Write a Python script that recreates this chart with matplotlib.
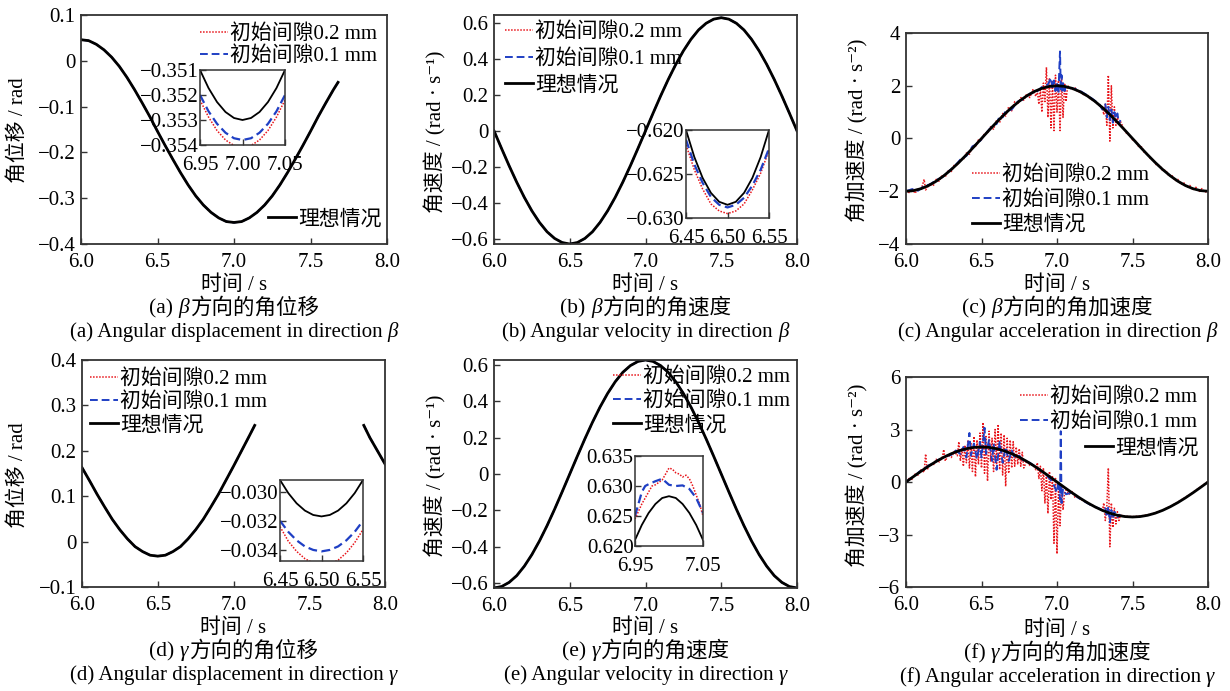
import numpy as np
import matplotlib
matplotlib.use("Agg")
import matplotlib.pyplot as plt
from matplotlib.legend import Legend
from matplotlib.offsetbox import TextArea, HPacker, DrawingArea, AnchoredOffsetbox

plt.rcParams['font.family'] = ['Liberation Serif', 'DejaVu Serif', 'Noto Sans CJK SC']

W, H = 1230, 691
FS = 15
M = '\u2212'

# ---------------- text ----------------
LABEL_02 = '初始间隙0.2 mm'
LABEL_01 = '初始间隙0.1 mm'
LABEL_IDEAL = '理想情况'
XLABEL = '时间 / s'
YLABELS = ['角位移 / rad', '角速度 / (rad · s⁻¹)', '角加速度 / (rad · s⁻²)',
           '角位移 / rad', '角速度 / (rad · s⁻¹)', '角加速度 / (rad · s⁻²)']
CAPTIONS_CN = [('(a)', 'β', '方向的角位移'), ('(b)', 'β', '方向的角速度'), ('(c)', 'β', '方向的角加速度'),
               ('(d)', 'γ', '方向的角位移'), ('(e)', 'γ', '方向的角速度'), ('(f)', 'γ', '方向的角加速度')]
CAPTIONS_EN = [('(a) Angular displacement in direction', 'β'),
               ('(b) Angular velocity in direction', 'β'),
               ('(c) Angular acceleration in direction', 'β'),
               ('(d) Angular displacement in direction', 'γ'),
               ('(e) Angular velocity in direction', 'γ'),
               ('(f) Angular acceleration in direction', 'γ')]

# ---------------- ticks ----------------
X_TICKS = [6.0, 6.5, 7.0, 7.5, 8.0]
X_TICK_LABELS = ['6.0', '6.5', '7.0', '7.5', '8.0']
Y_TICKS_A = [0.1, 0, -0.1, -0.2, -0.3, -0.4]
Y_LABELS_A = ['0.1', '0', M + '0.1', M + '0.2', M + '0.3', M + '0.4']
Y_TICKS_B = [0.6, 0.4, 0.2, 0, -0.2, -0.4, -0.6]
Y_LABELS_B = ['0.6', '0.4', '0.2', '0', M + '0.2', M + '0.4', M + '0.6']
Y_TICKS_C = [4, 2, 0, -2, -4]
Y_LABELS_C = ['4', '2', '0', M + '2', M + '4']
Y_TICKS_D = [0.4, 0.3, 0.2, 0.1, 0, -0.1]
Y_LABELS_D = ['0.4', '0.3', '0.2', '0.1', '0', M + '0.1']
Y_TICKS_F = [6, 3, 0, -3, -6]
Y_LABELS_F = ['6', '3', '0', M + '3', M + '6']

IN_A_XT = [6.95, 7.00, 7.05]; IN_A_XL = ['6.95', '7.00', '7.05']
IN_A_YT = [-0.351, -0.352, -0.353, -0.354]; IN_A_YL = [M + '0.351', M + '0.352', M + '0.353', M + '0.354']
IN_B_XT = [6.45, 6.50, 6.55]; IN_B_XL = ['6.45', '6.50', '6.55']
IN_B_YT = [-0.620, -0.625, -0.630]; IN_B_YL = [M + '0.620', M + '0.625', M + '0.630']
IN_D_YT = [-0.030, -0.032, -0.034]; IN_D_YL = [M + '0.030', M + '0.032', M + '0.034']
IN_E_XT = [6.95, 7.05]; IN_E_XL = ['6.95', '7.05']
IN_E_YT = [0.635, 0.630, 0.625, 0.620]; IN_E_YL = ['0.635', '0.630', '0.625', '0.620']

# ---------------- data ----------------
T41 = np.linspace(6.0, 8.0, 41)

# (a) beta angular displacement
T_A = list(np.linspace(6.0, 7.65, 34)) + [7.68]
DISP_BETA = [0.046, 0.044, 0.036, 0.024, 0.008, -0.012, -0.036, -0.063, -0.092, -0.122,
             -0.154, -0.185, -0.215, -0.244, -0.271, -0.295, -0.315, -0.331, -0.343, -0.351,
             -0.353, -0.351, -0.343, -0.331, -0.315, -0.295, -0.271, -0.244, -0.215, -0.185,
             -0.154, -0.122, -0.092, -0.063, -0.047]
T_IN_A = np.linspace(6.95, 7.05, 11)
DISP_BETA_IN_IDEAL = [-0.3510, -0.35172, -0.35228, -0.35268, -0.35292, -0.3530,
                      -0.35292, -0.35268, -0.35228, -0.35172, -0.3510]
DISP_BETA_IN_01 = [-0.3520, -0.35265, -0.35315, -0.35351, -0.35373, -0.3538,
                   -0.35373, -0.35351, -0.35315, -0.35265, -0.3520]
DISP_BETA_IN_02 = [-0.3522, -0.35288, -0.35342, -0.3538, -0.35402, -0.3541,
                   -0.35402, -0.3538, -0.35342, -0.35288, -0.3522]

# (b) beta angular velocity
VEL_BETA = [0.0, -0.098, -0.194, -0.285, -0.369, -0.444, -0.508, -0.560, -0.597, -0.620,
            -0.628, -0.620, -0.597, -0.560, -0.508, -0.444, -0.369, -0.285, -0.194, -0.098,
            0.0, 0.098, 0.194, 0.285, 0.369, 0.444, 0.508, 0.560, 0.597, 0.620,
            0.628, 0.620, 0.597, 0.560, 0.508, 0.444, 0.369, 0.285, 0.194, 0.098, 0.0]
T_IN_B = np.linspace(6.45, 6.55, 11)
VEL_BETA_IN_IDEAL = [-0.6200, -0.62306, -0.62544, -0.62714, -0.62816, -0.6285,
                     -0.62816, -0.62714, -0.62544, -0.62306, -0.6200]
VEL_BETA_IN_01 = [-0.6211, -0.6239, -0.6260, -0.6276, -0.6285, -0.6288,
                  -0.6285, -0.6277, -0.6263, -0.6245, -0.6221]
VEL_BETA_IN_02 = [-0.6217, -0.6245, -0.6267, -0.6284, -0.6292, -0.6295,
                  -0.6292, -0.6284, -0.6268, -0.6249, -0.6223]

# (c) beta angular acceleration
ACC_BETA = [-2.0, -1.975, -1.902, -1.782, -1.618, -1.414, -1.176, -0.908, -0.618, -0.313,
            0.0, 0.313, 0.618, 0.908, 1.176, 1.414, 1.618, 1.782, 1.902, 1.975,
            2.0, 1.975, 1.902, 1.782, 1.618, 1.414, 1.176, 0.908, 0.618, 0.313,
            0.0, -0.313, -0.618, -0.908, -1.176, -1.414, -1.618, -1.782, -1.902, -1.975, -2.0]
T_RED_C = [6.00, 6.02, 6.04, 6.06, 6.08, 6.10, 6.12, 6.13, 6.16, 6.18, 6.20, 6.22, 6.24, 6.26,
           6.28, 6.30, 6.32, 6.34, 6.36, 6.38, 6.40, 6.42, 6.44, 6.46, 6.48, 6.50, 6.52, 6.54,
           6.56, 6.58, 6.60, 6.62, 6.64, 6.66, 6.68, 6.70, 6.72, 6.74, 6.76, 6.78, 6.80, 6.82,
           6.84, 6.86,
           6.87, 6.88, 6.89, 6.90, 6.91, 6.92, 6.93, 6.94, 6.95, 6.96, 6.97, 6.98, 6.99, 7.00,
           7.01, 7.02, 7.03, 7.04, 7.05, 7.06, 7.07,
           7.08, 7.10, 7.12, 7.14, 7.16, 7.18, 7.20, 7.22, 7.24, 7.26, 7.28, 7.30,
           7.31, 7.32, 7.33, 7.34, 7.35, 7.36, 7.37, 7.38, 7.39, 7.40, 7.41, 7.42,
           7.44, 7.46, 7.48, 7.50, 7.52, 7.54, 7.56, 7.58, 7.60, 7.62, 7.64, 7.66, 7.68, 7.70,
           7.72, 7.74, 7.76, 7.78, 7.80, 7.82, 7.84, 7.86, 7.88, 7.90, 7.92, 7.94, 7.96, 7.98, 8.00]
ACC_RED_C = [-1.95, -2.05, -1.90, -2.08, -1.88, -1.95, -1.55, -1.95, -1.70, -1.80, -1.55, -1.62,
             -1.38, -1.45, -1.22, -1.25, -1.00, -1.02, -0.78, -0.80, -0.55, -0.60, -0.30, -0.30,
             -0.05, -0.05, 0.20, 0.20, 0.45, 0.35, 0.70, 0.60, 0.95, 0.85, 1.20, 1.05, 1.40, 1.30,
             1.55, 1.45, 1.70, 1.55, 1.85, 1.60,
             1.80, 1.30, 1.90, 1.00, 2.10, 1.40, 2.70, 0.80, 2.30, 0.40, 2.20, 0.30, 2.40, 1.00,
             2.20, 0.30, 2.30, 0.80, 2.10, 1.40, 2.00,
             1.95, 1.85, 1.92, 1.75, 1.80, 1.62, 1.66, 1.50, 1.45, 1.36, 1.25, 1.20,
             0.90, 1.30, 0.50, 2.40, -0.10, 2.00, 0.40, 1.20, 0.50, 0.85, 0.55, 0.65,
             0.40, 0.20, 0.12, -0.05, -0.10, -0.30, -0.32, -0.55, -0.58, -0.78, -0.82, -1.02,
             -1.02, -1.22, -1.20, -1.42, -1.38, -1.60, -1.55, -1.74, -1.68, -1.86, -1.78, -1.95,
             -1.85, -2.02, -1.90, -2.04, -1.97]
T_BLUE_C = [6.00, 6.04, 6.08, 6.12, 6.16, 6.20, 6.24, 6.28, 6.32, 6.36, 6.40, 6.44, 6.48, 6.52,
            6.56, 6.58, 6.60, 6.62, 6.64, 6.66, 6.70, 6.74, 6.78, 6.82, 6.86, 6.90, 6.94, 6.96,
            6.97, 6.98, 6.99, 7.00, 7.01, 7.015, 7.02, 7.025, 7.03, 7.035, 7.04, 7.05, 7.06,
            7.08, 7.12, 7.16, 7.20, 7.24, 7.28, 7.30, 7.32, 7.33, 7.34, 7.35, 7.36, 7.37, 7.38,
            7.39, 7.40, 7.41, 7.42]
ACC_BLUE_C = [-2.0, -1.92, -1.98, -1.80, -1.74, -1.58, -1.47, -1.26, -1.06, -0.80, -0.66, -0.30,
              -0.18, 0.14, 0.40, 0.50, 0.55, 0.85, 0.80, 1.05, 1.10, 1.40, 1.50, 1.70, 1.75,
              1.95, 2.05, 2.30, 1.90, 2.20, 1.80, 2.10, 1.70, 2.60, 3.30, 1.80, 2.40, 1.75,
              2.10, 1.80, 2.0, 1.92, 1.88, 1.78, 1.64, 1.48, 1.30, 1.10, 1.30, 0.80, 1.20,
              0.70, 1.10, 0.60, 1.00, 0.75, 0.95, 0.55, 0.70]

# (d) gamma angular displacement (curve leaves the plot between 7.14 s and 7.86 s)
T_D1 = list(np.linspace(6.0, 7.1, 23)) + [7.14]
DISP_GAMMA_1 = [0.163, 0.134, 0.104, 0.076, 0.049, 0.026, 0.006, -0.011, -0.022, -0.030,
                -0.032, -0.030, -0.022, -0.011, 0.006, 0.026, 0.049, 0.076, 0.104, 0.135,
                0.166, 0.198, 0.230, 0.256]
T_D2 = [7.86, 7.90, 7.95, 8.00]
DISP_GAMMA_2 = [0.256, 0.229, 0.200, 0.171]
T_IN_D = np.linspace(6.45, 6.55, 11)
DISP_GAMMA_IN_IDEAL = [-0.0292, -0.0301, -0.0308, -0.0313, -0.0316, -0.0317,
                       -0.0316, -0.0313, -0.0308, -0.0301, -0.0292]
DISP_GAMMA_IN_01 = [-0.0320, -0.03276, -0.03334, -0.03376, -0.0340, -0.0341,
                    -0.0340, -0.03376, -0.03334, -0.03276, -0.0320]
DISP_GAMMA_IN_02 = [-0.0324, -0.0334, -0.0341, -0.0346, -0.0349, -0.0350,
                    -0.0350, -0.0347, -0.0342, -0.0335, -0.0326]

# (e) gamma angular velocity
VEL_GAMMA = [-0.628, -0.620, -0.597, -0.560, -0.508, -0.444, -0.369, -0.285, -0.194, -0.098,
             0.0, 0.098, 0.194, 0.285, 0.369, 0.444, 0.508, 0.560, 0.597, 0.620,
             0.628, 0.620, 0.597, 0.560, 0.508, 0.444, 0.369, 0.285, 0.194, 0.098,
             0.0, -0.098, -0.194, -0.285, -0.369, -0.444, -0.508, -0.560, -0.597, -0.620, -0.628]
T_IN_E = np.linspace(6.95, 7.05, 11)
VEL_GAMMA_IN_IDEAL = [0.6210, 0.6235, 0.6255, 0.6270, 0.6280, 0.6283,
                      0.6280, 0.6270, 0.6255, 0.6235, 0.6210]
T_IN_E_02 = [6.95, 6.96, 6.97, 6.975, 6.98, 6.99, 6.995, 7.00, 7.005, 7.01, 7.015, 7.02,
             7.025, 7.03, 7.035, 7.04, 7.045, 7.05]
VEL_GAMMA_IN_02 = [0.6245, 0.6270, 0.6290, 0.6300, 0.6302, 0.6310, 0.6320, 0.6330, 0.6328,
                   0.6322, 0.6320, 0.6315, 0.6318, 0.6312, 0.6300, 0.6285, 0.6270, 0.6250]
T_IN_E_01 = [6.95, 6.96, 6.965, 6.97, 6.98, 6.99, 7.00, 7.01, 7.02, 7.03, 7.04, 7.05]
VEL_GAMMA_IN_01 = [0.6250, 0.6290, 0.6300, 0.6303, 0.6308, 0.6312, 0.6302, 0.6300, 0.6301,
                   0.6295, 0.6280, 0.6255]

# (f) gamma angular acceleration
ACC_GAMMA = [0.0, 0.313, 0.618, 0.908, 1.176, 1.414, 1.618, 1.782, 1.902, 1.975,
             2.0, 1.975, 1.902, 1.782, 1.618, 1.414, 1.176, 0.908, 0.618, 0.313,
             0.0, -0.313, -0.618, -0.908, -1.176, -1.414, -1.618, -1.782, -1.902, -1.975,
             -2.0, -1.975, -1.902, -1.782, -1.618, -1.414, -1.176, -0.908, -0.618, -0.313, 0.0]
T_RED_F = [6.00, 6.02, 6.04, 6.06, 6.08, 6.10, 6.12, 6.13, 6.14, 6.16, 6.18, 6.20, 6.22, 6.24,
           6.25, 6.26, 6.28, 6.30, 6.32, 6.34,
           6.35, 6.36, 6.37, 6.38, 6.39, 6.40, 6.41, 6.42, 6.43, 6.44,
           6.45, 6.46, 6.47, 6.48, 6.49, 6.50, 6.51, 6.52, 6.53, 6.54,
           6.55, 6.56, 6.57, 6.58, 6.59, 6.60, 6.61, 6.62, 6.63, 6.64,
           6.65, 6.66, 6.67, 6.68, 6.69, 6.70, 6.71, 6.72, 6.73, 6.74,
           6.75, 6.76, 6.77, 6.78,
           6.80, 6.82, 6.84, 6.86,
           6.87, 6.88, 6.89, 6.90, 6.91, 6.92, 6.93, 6.94, 6.95, 6.96, 6.97, 6.98, 6.99, 7.00,
           7.01, 7.02, 7.03, 7.04,
           7.05, 7.06, 7.08, 7.10, 7.12, 7.14, 7.16, 7.18, 7.20, 7.22, 7.24, 7.26, 7.28, 7.30,
           7.31, 7.32, 7.33, 7.34, 7.35, 7.36, 7.37, 7.38, 7.39, 7.40, 7.41, 7.42,
           7.45, 7.50, 7.55, 7.60, 7.65, 7.70, 7.75, 7.80, 7.85, 7.90, 7.95, 8.00]
ACC_RED_F = [0.05, 0.20, 0.15, 0.45, 0.40, 0.70, 0.55, 1.60, 0.70, 1.00, 0.95, 1.30, 1.15, 1.40,
             1.85, 1.20, 1.55, 1.40, 1.75, 1.50,
             2.30, 1.20, 1.90, 0.90, 2.10, 1.10, 2.40, 0.80, 2.20, 0.60,
             2.60, 0.30, 2.40, 1.00, 2.80, 0.80, 3.40, 0.50, 2.60, 0.05,
             2.90, 1.20, 2.50, 0.60, 3.00, 1.00, 3.30, 0.70, 2.80, 0.40,
             2.70, -0.25, 2.50, 0.50, 2.40, 0.80, 2.30, 0.90, 2.00, 1.00,
             1.90, 0.90, 1.70, 0.80,
             1.20, 0.95, 1.00, 0.70,
             1.10, 0.20, 0.90, -0.50, 0.80, -1.20, 0.50, -1.80, 0.60, -1.00, 0.30, -3.50, 0.20,
             -4.10, -0.30, -2.50, -0.20, -1.60,
             -0.60, -0.45, -0.70, -0.55, -0.90, -0.85, -1.00, -1.10, -1.15, -1.30, -1.35, -1.50,
             -1.50, -1.65,
             -1.20, -2.20, -1.40, 0.80, -3.70, -1.20, -2.60, -1.50, -2.40, -1.70, -2.20, -1.90,
             -1.96, -1.98, -1.95, -1.88, -1.76, -1.60, -1.40, -1.15, -0.88, -0.60, -0.28, 0.02]
T_BLUE_F = [6.00, 6.03, 6.06, 6.09, 6.12, 6.15, 6.18, 6.21, 6.24, 6.27, 6.30, 6.33, 6.36, 6.38,
            6.40, 6.42, 6.43, 6.45, 6.47, 6.49, 6.50, 6.52, 6.53, 6.55, 6.57, 6.58, 6.60, 6.62,
            6.64, 6.66, 6.68, 6.70, 6.72, 6.75, 6.78, 6.82, 6.86, 6.90, 6.93, 6.96, 6.98, 7.00,
            7.01, 7.02, 7.025, 7.03, 7.04, 7.06, 7.10, 7.14, 7.18, 7.22, 7.26, 7.30, 7.32, 7.33,
            7.34, 7.35, 7.36, 7.37, 7.38, 7.40, 7.42]
ACC_BLUE_F = [0.0, 0.20, 0.35, 0.60, 0.75, 0.95, 1.05, 1.25, 1.35, 1.50, 1.55, 1.80, 1.60, 2.00,
              1.40, 2.80, 1.50, 2.20, 1.30, 2.30, 1.40, 3.10, 1.60, 2.40, 1.20, 2.20, 0.70, 2.30,
              1.10, 2.00, 1.20, 1.80, 1.40, 1.50, 1.20, 1.10, 0.85, 0.60, 0.40, 0.10, -0.20,
              -0.60, 0.10, -1.00, 2.90, -1.20, -0.40, -0.70, -0.60, -0.90, -1.10, -1.30, -1.45,
              -1.60, -1.50, -2.00, -1.40, -2.30, -1.60, -2.10, -1.70, -2.00, -1.85]

# ---------------- styles ----------------
RED = dict(color='#e8151b', lw=1.1, ls=(0, (1, 1)))
BLUE = dict(color='#1f3fc4', lw=1.4, ls=(0, (4, 2)))
BLACK = dict(color='black', lw=2.0)
EDGE = '#333333'

fig = plt.figure(figsize=(W / 100, H / 100), dpi=100)


def add_axes_px(l, t, r, b):
    return fig.add_axes([l / W, 1 - b / H, (r - l) / W, (b - t) / H])


def style(ax, lw=1.3, pad=4):
    for s in ax.spines.values():
        s.set_linewidth(lw)
        s.set_color(EDGE)
    ax.tick_params(direction='in', length=4, width=1.0, labelsize=FS, pad=pad, color=EDGE)


def main_axes(box, ylim, yt, yl):
    ax = add_axes_px(*box)
    style(ax)
    ax.tick_params(axis='x', pad=6.5)
    ax.set_xlim(6.0, 8.0)
    ax.set_ylim(*ylim)
    ax.set_xticks(X_TICKS, X_TICK_LABELS)
    ax.set_yticks(yt, yl)
    cx = (box[0] + box[2]) / 2
    return ax, cx


def inset(box, xlim, ylim, xt, xl, yt, yl):
    ax = add_axes_px(*box)
    style(ax, lw=1.1, pad=3)
    ax.tick_params(axis='x', pad=8)
    ax.tick_params(axis='y', pad=1)
    ax.set_xlim(*xlim)
    ax.set_ylim(*ylim)
    ax.set_xticks(xt, xl)
    ax.set_yticks(yt, yl)
    return ax


def legend_at(ax, handles, labels, x, y, spacing=0.2):
    leg = Legend(ax, handles, labels, loc='upper left',
                 bbox_to_anchor=(x / W, 1 - (y - 8) / H), bbox_transform=fig.transFigure,
                 frameon=False, fontsize=FS, handlelength=1.35, handletextpad=0.1,
                 labelspacing=spacing, borderpad=0, borderaxespad=0)
    ax.add_artist(leg)


def caption(cx, cy, parts, size):
    boxes = []
    for p in parts:
        if p is None:
            boxes.append(DrawingArea(size * 0.25, 0))
        else:
            boxes.append(TextArea(p[0], textprops=dict(fontsize=size, fontstyle=p[1])))
    pack = HPacker(children=boxes, align='baseline', pad=0, sep=0)
    ab = AnchoredOffsetbox(loc='center', child=pack, pad=0, borderpad=0, frameon=False,
                           bbox_to_anchor=(cx / W, 1 - cy / H), bbox_transform=fig.transFigure)
    fig.add_artist(ab)


def texts(i, cx, ylab_x, ylab_y, top):
    fig.text(ylab_x / W, 1 - ylab_y / H, YLABELS[i], rotation=90, ha='center', va='center',
             fontsize=FS)
    fig.text(cx / W, 1 - top / H, XLABEL, ha='center', va='center', fontsize=FS)
    caption(cx, top + 23, [(CAPTIONS_CN[i][0], 'normal'), None, (CAPTIONS_CN[i][1], 'italic'),
                           (CAPTIONS_CN[i][2], 'normal')], FS + 0.5)
    caption(cx, top + 47, [(CAPTIONS_EN[i][0], 'normal'), None, (CAPTIONS_EN[i][1], 'italic')], FS)


def inset_lines(ax, t02, v02, t01, v01, t_id, v_id):
    ax.plot(t02, v02, color=RED['color'], lw=1.1, ls=RED['ls'])
    ax.plot(t01, v01, color=BLUE['color'], lw=1.6, ls=BLUE['ls'])
    ax.plot(t_id, v_id, color='black', lw=1.3)


# ---- (a) ----
ax, cx = main_axes((81, 15, 387, 244), (-0.4, 0.1), Y_TICKS_A, Y_LABELS_A)
r, = ax.plot(T_A, DISP_BETA, **RED)
b, = ax.plot(T_A, DISP_BETA, **BLUE)
k, = ax.plot(T_A, DISP_BETA, **BLACK)
legend_at(ax, [r, b], [LABEL_02, LABEL_01], 200, 32, 0.12)
legend_at(ax, [k], [LABEL_IDEAL], 268, 218)
texts(0, cx, 18, 130, 285)
ai = inset((200, 70, 285, 145), (6.95, 7.05), (-0.354, -0.351), IN_A_XT, IN_A_XL, IN_A_YT, IN_A_YL)
inset_lines(ai, T_IN_A, DISP_BETA_IN_02, T_IN_A, DISP_BETA_IN_01, T_IN_A, DISP_BETA_IN_IDEAL)

# ---- (b) ----
ax, cx = main_axes((494, 15, 797, 244), (-0.628, 0.643), Y_TICKS_B, Y_LABELS_B)
r, = ax.plot(T41, VEL_BETA, **RED)
b, = ax.plot(T41, VEL_BETA, **BLUE)
k, = ax.plot(T41, VEL_BETA, **BLACK)
legend_at(ax, [r, b, k], [LABEL_02, LABEL_01, LABEL_IDEAL], 505, 30, 0.34)
texts(1, cx, 435, 132, 285)
bi = inset((686, 130, 769, 218), (6.45, 6.55), (-0.630, -0.620), IN_B_XT, IN_B_XL, IN_B_YT, IN_B_YL)
inset_lines(bi, T_IN_B, VEL_BETA_IN_02, T_IN_B, VEL_BETA_IN_01, T_IN_B, VEL_BETA_IN_IDEAL)

# ---- (c) ----
ax, cx = main_axes((906, 33, 1208, 244), (-4, 4), Y_TICKS_C, Y_LABELS_C)
r, = ax.plot(T_RED_C, ACC_RED_C, **RED)
b, = ax.plot(T_BLUE_C, ACC_BLUE_C, **BLUE)
k, = ax.plot(T41, ACC_BETA, **BLACK)
legend_at(ax, [r, b, k], [LABEL_02, LABEL_01, LABEL_IDEAL], 972, 173, 0.26)
texts(2, cx, 857, 130, 285)

# ---- (d) ----
ax, cx = main_axes((82, 360, 385, 587), (-0.1, 0.4), Y_TICKS_D, Y_LABELS_D)
for tt, vv in ((T_D1, DISP_GAMMA_1), (T_D2, DISP_GAMMA_2)):
    r, = ax.plot(tt, vv, **RED)
    b, = ax.plot(tt, vv, **BLUE)
    k, = ax.plot(tt, vv, **BLACK)
legend_at(ax, [r, b, k], [LABEL_02, LABEL_01, LABEL_IDEAL], 90, 377, 0.17)
texts(3, cx, 18, 475, 628)
di = inset((280, 480, 363, 561), (6.45, 6.55), (-0.03476, -0.0292), IN_B_XT, IN_B_XL, IN_D_YT, IN_D_YL)
inset_lines(di, T_IN_D, DISP_GAMMA_IN_02, T_IN_D, DISP_GAMMA_IN_01, T_IN_D, DISP_GAMMA_IN_IDEAL)

# ---- (e) ----
ax, cx = main_axes((494, 360, 797, 588), (-0.628, 0.628), Y_TICKS_B, Y_LABELS_B)
r, = ax.plot(T41, VEL_GAMMA, **RED)
b, = ax.plot(T41, VEL_GAMMA, **BLUE)
k, = ax.plot(T41, VEL_GAMMA, **BLACK)
legend_at(ax, [r, b, k], [LABEL_02, LABEL_01, LABEL_IDEAL], 613, 375, 0.22)
texts(4, cx, 435, 476, 628)
ei = inset((635, 456, 703, 546), (6.95, 7.05), (0.620, 0.635), IN_E_XT, IN_E_XL, IN_E_YT, IN_E_YL)
inset_lines(ei, T_IN_E_02, VEL_GAMMA_IN_02, T_IN_E_01, VEL_GAMMA_IN_01, T_IN_E, VEL_GAMMA_IN_IDEAL)

# ---- (f) ----
ax, cx = main_axes((906, 377, 1208, 587), (-6, 6), Y_TICKS_F, Y_LABELS_F)
r, = ax.plot(T_RED_F, ACC_RED_F, **RED)
b, = ax.plot(T_BLUE_F, ACC_BLUE_F, **BLUE)
k, = ax.plot(T41, ACC_GAMMA, **BLACK)
legend_at(ax, [r, b], [LABEL_02, LABEL_01], 1020, 395, 0.26)
legend_at(ax, [k], [LABEL_IDEAL], 1085, 447)
texts(5, cx, 857, 475, 630)

fig.savefig('out.png', dpi=100)
